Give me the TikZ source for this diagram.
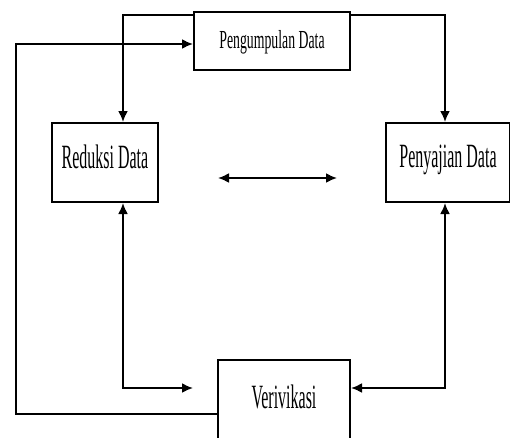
\documentclass[tikz,border=0pt]{standalone}
\usepackage{fontspec}
\setmainfont{Liberation Serif}
\usepackage{tikz}
\usetikzlibrary{arrows.meta}
\pgfdeclarelayer{edgelayer}
\pgfdeclarelayer{nodelayer}
\pgfsetlayers{edgelayer,nodelayer,main}
\newcommand{\squeeze}[1]{\scalebox{0.47}[1]{#1}}
\tikzset{
	stage/.style={draw, line width=2pt, inner sep=0pt, text depth=12pt, font=\fontsize{34}{38}\selectfont},
	topstage/.style={stage, text depth=4pt, font=\fontsize{26}{30}\selectfont},
	flow/.style={line width=2pt, >={Latex[length=11pt,width=10pt]}}
}

\begin{document}
\begin{tikzpicture}[x=1pt, y=-1pt]
	\useasboundingbox (0,0) rectangle (510,437);
	\begin{pgfonlayer}{nodelayer}
		\node [topstage, minimum width=156pt, minimum height=58pt] (peng) at (272, 41) {\scalebox{0.53}[1]{Pengumpulan Data}};
		\node [stage, minimum width=106pt, minimum height=79pt] (red) at (105, 162.5) {\squeeze{Reduksi Data}};
		\node [stage, minimum width=124pt, minimum height=79pt] (pen) at (448, 162.5) {\squeeze{Penyajian Data}};
		\node [stage, minimum width=132pt, minimum height=85pt] (ver) at (284, 402.5) {\squeeze{Verivikasi}};
		\coordinate (fb) at (16, 44);
		\coordinate (rv) at (193, 388);
		\coordinate (ml) at (218, 178);
		\coordinate (mr) at (337, 178);
	\end{pgfonlayer}
	\begin{pgfonlayer}{edgelayer}
		\draw [flow, ->] ([yshift=-4pt]peng.north west) -| ([xshift=18pt]red.north);
		\draw [flow, ->] ([yshift=-4pt]peng.north east) -| ([xshift=-3pt]pen.north);
		\draw [flow, <->] (ml) -- (mr);
		\draw [flow, <->] ([xshift=18pt]red.south) |- (rv);
		\draw [flow, <->] ([xshift=-3pt]pen.south) |- ([yshift=14.5pt]ver.east);
		\draw [flow, ->] ([yshift=-11.5pt]ver.west) -| (fb) -- ([yshift=-3pt]peng.west);
	\end{pgfonlayer}
\end{tikzpicture}
\end{document}
